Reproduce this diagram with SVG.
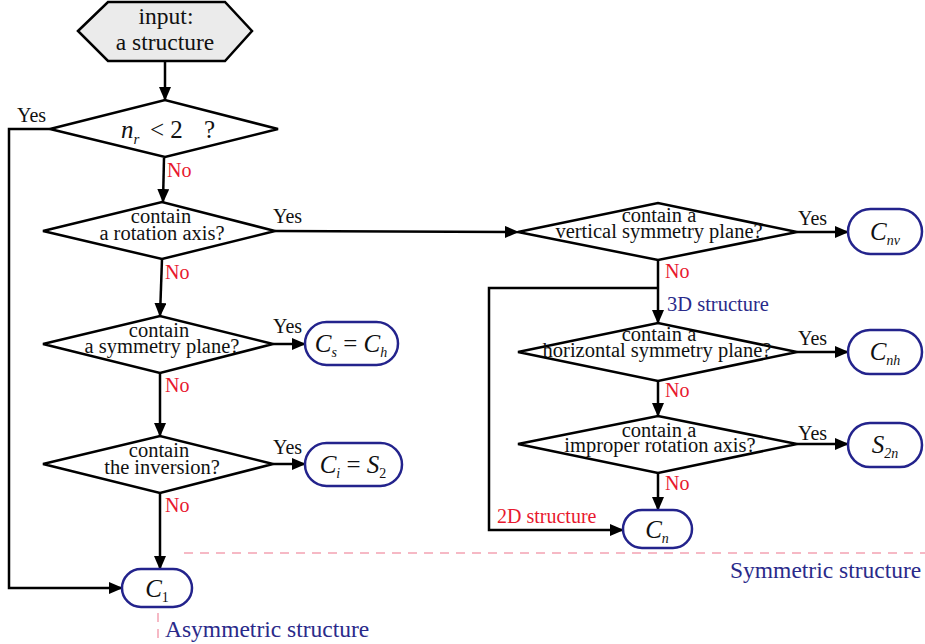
<svg xmlns="http://www.w3.org/2000/svg" width="925" height="644" viewBox="0 0 925 644">
<style>
text{font-family:"Liberation Serif","Times New Roman",serif;fill:#111}
.q{font-size:20.5px;text-anchor:middle}
.yes{font-size:20px}
.no{font-size:20px;fill:#e8182e}
.blue{fill:#2a2a8a}
.dia{fill:#fff;stroke:#000;stroke-width:2.5;stroke-linejoin:miter}
.term{fill:#fff;stroke:#23238c;stroke-width:2.5}
.m{font-size:25px;font-style:italic;text-anchor:middle}
.sub{font-size:14px}
.conn{fill:none;stroke:#000;stroke-width:2.5}
.dash{fill:none;stroke:#f4a3b2;stroke-width:1.5;stroke-dasharray:9,7}
</style>
<defs>
<marker id="ah" markerUnits="userSpaceOnUse" markerWidth="14" markerHeight="12" refX="13" refY="6" orient="auto">
<path d="M0,0 L14,6 L0,12 z" fill="#000"/>
</marker>
</defs>
<g id="connectors">
<path class="conn" d="M165,61 L165,100" marker-end="url(#ah)"/>
<path class="conn" d="M50,129 L9,129 L9,588 L122,588" marker-end="url(#ah)"/>
<path class="conn" d="M164,158 L163,202" marker-end="url(#ah)"/>
<path class="conn" d="M275,231 L518,232" marker-end="url(#ah)"/>
<path class="conn" d="M162,259 L160,316" marker-end="url(#ah)"/>
<path class="conn" d="M273,344 L305,344" marker-end="url(#ah)"/>
<path class="conn" d="M160,373 L160,436" marker-end="url(#ah)"/>
<path class="conn" d="M273,464 L305,464" marker-end="url(#ah)"/>
<path class="conn" d="M160,493 L160,569" marker-end="url(#ah)"/>
<path class="conn" d="M797,232 L848,232" marker-end="url(#ah)"/>
<path class="conn" d="M658,260 L658,323" marker-end="url(#ah)"/>
<path class="conn" d="M658,288 L489,288 L489,530 L623,530" marker-end="url(#ah)"/>
<path class="conn" d="M797,352 L848,352" marker-end="url(#ah)"/>
<path class="conn" d="M658,381 L658,416" marker-end="url(#ah)"/>
<path class="conn" d="M797,444 L848,444" marker-end="url(#ah)"/>
<path class="conn" d="M658,473 L658,510" marker-end="url(#ah)"/>
<text class="yes" x="17" y="122">Yes</text>
<text class="no" x="167" y="177">No</text>
<text class="yes" x="273" y="223">Yes</text>
<text class="no" x="165" y="279">No</text>
<text class="yes" x="273" y="333">Yes</text>
<text class="no" x="165" y="392">No</text>
<text class="yes" x="273" y="454">Yes</text>
<text class="no" x="165" y="512">No</text>
<text class="yes" x="798" y="225">Yes</text>
<text class="no" x="665" y="278">No</text>
<text class="blue" x="667" y="311" font-size="20.5">3D structure</text>
<text class="yes" x="798" y="345">Yes</text>
<text class="no" x="665" y="397">No</text>
<text class="yes" x="798" y="440">Yes</text>
<text class="no" x="665" y="490">No</text>
<text class="no" x="497" y="523" font-size="20.5">2D structure</text>
</g>
<g id="input">
<polygon points="78,31 108,2 225,2 252,31 225,61 108,61" fill="#ebebeb" stroke="#000" stroke-width="2.5"/>
<text x="166" y="24" font-size="23.5" text-anchor="middle">input:</text>
<text x="165" y="50" font-size="23.5" text-anchor="middle">a structure</text>
</g>
<g id="d1">
<polygon class="dia" points="50,129 165,100 278,129 165,157"/>
<text x="121" y="138" font-size="25" font-style="italic">n<tspan font-size="15" dy="6">r</tspan></text>
<text x="150" y="138" font-size="25">&lt; 2</text>
<text x="204" y="138" font-size="25">?</text>
</g>
<g id="d2">
<polygon class="dia" points="43,231 162,202 275,231 162,259"/>
<text class="q" x="161" y="223">contain</text>
<text class="q" x="162" y="240">a rotation axis?</text>
</g>
<g id="d3">
<polygon class="dia" points="43,344 160,316 273,344 160,373"/>
<text class="q" x="159" y="337">contain</text>
<text class="q" x="162" y="353">a symmetry plane?</text>
</g>
<g id="d4">
<polygon class="dia" points="43,464 160,436 273,464 160,493"/>
<text class="q" x="159" y="457">contain</text>
<text class="q" x="162" y="474">the inversion?</text>
</g>
<g id="d5">
<polygon class="dia" points="518,232 658,203 797,232 658,260"/>
<text class="q" x="659" y="222">contain a</text>
<text class="q" x="659" y="238">vertical symmetry plane?</text>
</g>
<g id="d6">
<polygon class="dia" points="518,352 658,323 797,352 658,381"/>
<text class="q" x="659" y="341">contain a</text>
<text class="q" x="657" y="357">horizontal symmetry plane?</text>
</g>
<g id="d7">
<polygon class="dia" points="518,444 658,416 797,444 658,473"/>
<text class="q" x="659" y="437">contain a</text>
<text class="q" x="660" y="452">improper rotation axis?</text>
</g>
<g id="cs">
<rect class="term" x="305" y="322" width="93" height="43" rx="21.5"/>
<text class="m" x="351" y="352">C<tspan class="sub" dy="5">s</tspan><tspan dy="-5" font-style="normal"> = </tspan>C<tspan class="sub" dy="5">h</tspan></text>
</g>
<g id="ci">
<rect class="term" x="305" y="443" width="97" height="43" rx="21.5"/>
<text class="m" x="353" y="473">C<tspan class="sub" dy="5">i</tspan><tspan dy="-5" font-style="normal"> = </tspan>S<tspan class="sub" dy="5" font-style="normal">2</tspan></text>
</g>
<g id="c1">
<rect class="term" x="122" y="569" width="70" height="38" rx="19"/>
<text class="m" x="157" y="597">C<tspan class="sub" dy="5" font-style="normal">1</tspan></text>
</g>
<g id="cnv">
<rect class="term" x="848" y="209" width="74" height="45" rx="22.5"/>
<text class="m" x="885" y="240">C<tspan class="sub" dy="5">nv</tspan></text>
</g>
<g id="cnh">
<rect class="term" x="848" y="330" width="74" height="44" rx="22"/>
<text class="m" x="885" y="360">C<tspan class="sub" dy="5">nh</tspan></text>
</g>
<g id="s2n">
<rect class="term" x="848" y="423" width="74" height="44" rx="22"/>
<text class="m" x="885" y="453">S<tspan class="sub" dy="5">2n</tspan></text>
</g>
<g id="cn">
<rect class="term" x="623" y="510" width="69" height="38" rx="19"/>
<text class="m" x="657" y="538">C<tspan class="sub" dy="5">n</tspan></text>
</g>
<g id="regions">
<path class="dash" d="M184,553 L925,553"/>
<path class="dash" d="M158,613 L158,644"/>
<text class="blue" x="730" y="578" font-size="23.5">Symmetric structure</text>
<text class="blue" x="165" y="637" font-size="23.5">Asymmetric structure</text>
</g>
</svg>
